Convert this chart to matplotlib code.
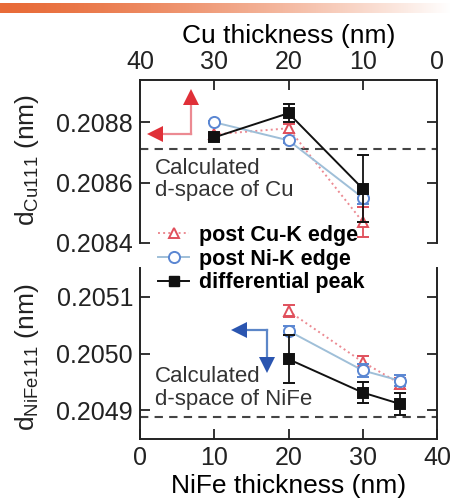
import numpy as np
import matplotlib
matplotlib.use("Agg")
import matplotlib.pyplot as plt
from matplotlib.lines import Line2D

plt.rcParams['font.family'] = ['Liberation Sans', 'DejaVu Sans']
plt.rcParams['mathtext.fontset'] = 'custom'
plt.rcParams['mathtext.rm'] = 'Liberation Sans'

# ---- data -------------------------------------------------------------
cu_thickness = [30, 20, 10]
cu_post_cu_edge = [0.20876, 0.20878, 0.20847]
cu_post_cu_err = [0.000005, 0.000015, 0.00005]
cu_post_ni_edge = [0.20880, 0.20874, 0.20855]
cu_post_ni_err = [0.000004, 0.000008, 0.00002]
cu_diff_peak = [0.20875, 0.20883, 0.20858]
cu_diff_err = [0.000008, 0.00003, 0.00011]
cu_calc = 0.20871

nife_thickness = [20, 30, 35]
nife_post_cu_edge = [0.205075, 0.204985, 0.204947]
nife_post_cu_err = [0.00001, 0.00001, 0.00001]
nife_post_ni_edge = [0.205040, 0.204970, 0.204952]
nife_post_ni_err = [0.000008, 0.000012, 0.00001]
nife_diff_peak = [0.204990, 0.204931, 0.204911]
nife_diff_err = [0.000042, 0.000019, 0.00002]
nife_calc = 0.204888

cu_yticks = [0.2084, 0.2086, 0.2088]
nife_yticks = [0.2049, 0.2050, 0.2051]
x_ticks = [0, 10, 20, 30, 40]

# ---- styles -----------------------------------------------------------
RED_LINE = '#ec8a92'
RED_MK = '#e0505c'
BLUE_LINE = '#9fbfd8'
BLUE_MK = '#5a86d2'
BLACK = '#111111'
TICK_FS = 18
LABEL_FS = 19
NOTE_FS = 16

fig = plt.figure(figsize=(4.51, 5.03), dpi=100)

# decorative gradient strip across the top
strip = fig.add_axes([0, 1 - 13 / 503, 1, 10 / 503])
t = np.linspace(0, 1, 400)
c0 = np.array([0.91, 0.42, 0.22])
c1 = np.array([1.0, 1.0, 1.0])
w = np.clip(t ** 1.4, 0, 1)[:, None]
grad = (c0 * (1 - w) + c1 * w)[None, :, :]
strip.imshow(grad, aspect='auto', extent=[0, 1, 0, 1])
strip.axis('off')

L, R = 140 / 451, 437 / 451
ax_top = fig.add_axes([L, 1 - 243 / 503, R - L, (243 - 80) / 503])
ax_bot = fig.add_axes([L, 1 - 439 / 503, R - L, (439 - 268) / 503])


def style_axes(ax, hide):
    ax.spines[hide].set_visible(False)
    for s in ax.spines.values():
        s.set_linewidth(1.4)
        s.set_color('#222222')
    ax.tick_params(direction='in', length=7, width=1.3, labelsize=TICK_FS,
                   colors='#222222', pad=5)


def draw_series(ax, x, y, err, color, mkcolor, marker, ls, fill, ms, z):
    ax.errorbar(x, y, yerr=err, color=color, ls=ls, lw=1.4,
                marker=marker, ms=ms, mfc=fill, mec=mkcolor, mew=1.4,
                ecolor=mkcolor if fill == 'white' else color,
                elinewidth=1.3, capsize=4, capthick=1.3, zorder=z)


# ---- Cu panel (top axis) ----------------------------------------------
style_axes(ax_top, 'bottom')
ax_top.set_xlim(40, 0)
ax_top.set_ylim(0.20840, 0.20894)
ax_top.xaxis.set_ticks_position('top')
ax_top.xaxis.set_label_position('top')
ax_top.set_xticks(x_ticks)
ax_top.set_yticks(cu_yticks)
ax_top.set_yticklabels([f'{v:.4f}' for v in cu_yticks])
ax_top.tick_params(axis='y', right=True, left=True)
ax_top.tick_params(axis='x', top=True, bottom=False, pad=4)
ax_top.set_xlabel('Cu thickness (nm)', fontsize=LABEL_FS, labelpad=5)

ax_top.axhline(cu_calc, color='#444444', ls=(0, (4, 3)), lw=1.5, zorder=1)
draw_series(ax_top, cu_thickness, cu_post_cu_edge, cu_post_cu_err,
            RED_LINE, RED_MK, '^', ':', 'white', 7, 3)
draw_series(ax_top, cu_thickness, cu_post_ni_edge, cu_post_ni_err,
            BLUE_LINE, BLUE_MK, 'o', '-', 'white', 8, 4)
draw_series(ax_top, cu_thickness, cu_diff_peak, cu_diff_err,
            BLACK, BLACK, 's', '-', BLACK, 7, 5)

ax_top.text(38.0, 0.20868, 'Calculated\nd-space of Cu', fontsize=NOTE_FS,
            color='#333333', va='top', ha='left', linespacing=1.05)

# red direction arrows
ax_top.plot([33.1, 33.1], [0.208761, 0.20888], color=RED_LINE, lw=1.6)
ax_top.plot([33.1, 37.8], [0.208761, 0.208761], color=RED_LINE, lw=1.6)
ax_top.plot([33.1], [0.208885], marker='^', ms=11, color='#e03038', mew=0)
ax_top.plot([38.0], [0.208761], marker='<', ms=11, color='#e03038', mew=0)

# ---- NiFe panel (bottom axis) -----------------------------------------
style_axes(ax_bot, 'top')
ax_bot.set_xlim(0, 40)
ax_bot.set_ylim(0.204849, 0.205151)
ax_bot.set_xticks(x_ticks)
ax_bot.set_yticks(nife_yticks)
ax_bot.set_yticklabels([f'{v:.4f}' for v in nife_yticks])
ax_bot.tick_params(axis='y', right=True, left=True)
ax_bot.tick_params(axis='x', top=False, bottom=True, pad=5)
ax_bot.set_xlabel('NiFe thickness (nm)', fontsize=LABEL_FS, labelpad=3)

ax_bot.axhline(nife_calc, color='#444444', ls=(0, (4, 3)), lw=1.5, zorder=1)
draw_series(ax_bot, nife_thickness, nife_post_cu_edge, nife_post_cu_err,
            RED_LINE, RED_MK, '^', ':', 'white', 7, 3)
draw_series(ax_bot, nife_thickness, nife_post_ni_edge, nife_post_ni_err,
            BLUE_LINE, BLUE_MK, 'o', '-', 'white', 8, 4)
draw_series(ax_bot, nife_thickness, nife_diff_peak, nife_diff_err,
            BLACK, BLACK, 's', '-', BLACK, 7, 5)

ax_bot.text(2.0, 0.204978, 'Calculated\nd-space of NiFe', fontsize=NOTE_FS,
            color='#333333', va='top', ha='left', linespacing=1.15)

# blue direction arrows
ax_bot.plot([17.1, 13.5], [0.205042, 0.205042], color='#5c86c8', lw=1.6)
ax_bot.plot([17.1, 17.1], [0.205042, 0.204985], color='#5c86c8', lw=1.6)
ax_bot.plot([13.3], [0.205042], marker='<', ms=11, color='#2a55b0', mew=0)
ax_bot.plot([17.1], [0.204980], marker='v', ms=11, color='#2a55b0', mew=0)

# ---- y labels ---------------------------------------------------------
fig.text(27 / 451, 1 - 160 / 503, r'd$_{\mathrm{Cu111}}$ (nm)', rotation=90,
         fontsize=LABEL_FS, ha='center', va='center', color='#222222')
fig.text(27 / 451, 1 - 357 / 503, r'd$_{\mathrm{NiFe111}}$ (nm)', rotation=90,
         fontsize=LABEL_FS, ha='center', va='center', color='#222222')

# ---- legend -----------------------------------------------------------
handles = [
    Line2D([], [], color=RED_LINE, ls=':', lw=1.4, marker='^', ms=7,
           mfc='white', mec=RED_MK, mew=1.4),
    Line2D([], [], color=BLUE_LINE, ls='-', lw=1.4, marker='o', ms=8,
           mfc='white', mec=BLUE_MK, mew=1.4),
    Line2D([], [], color=BLACK, ls='-', lw=1.4, marker='s', ms=7,
           mfc=BLACK, mec=BLACK),
]
labels = ['post Cu-K edge', 'post Ni-K edge', 'differential peak']
fig.legend(handles, labels, loc='upper left',
           bbox_to_anchor=(158 / 451, 1 - 225 / 503), frameon=False,
           prop={'weight': 'bold', 'size': 15.5}, handlelength=1.45,
           handletextpad=0.45, labelspacing=0.12, borderpad=0,
           borderaxespad=0, numpoints=1)

fig.savefig('out.png', dpi=100)
